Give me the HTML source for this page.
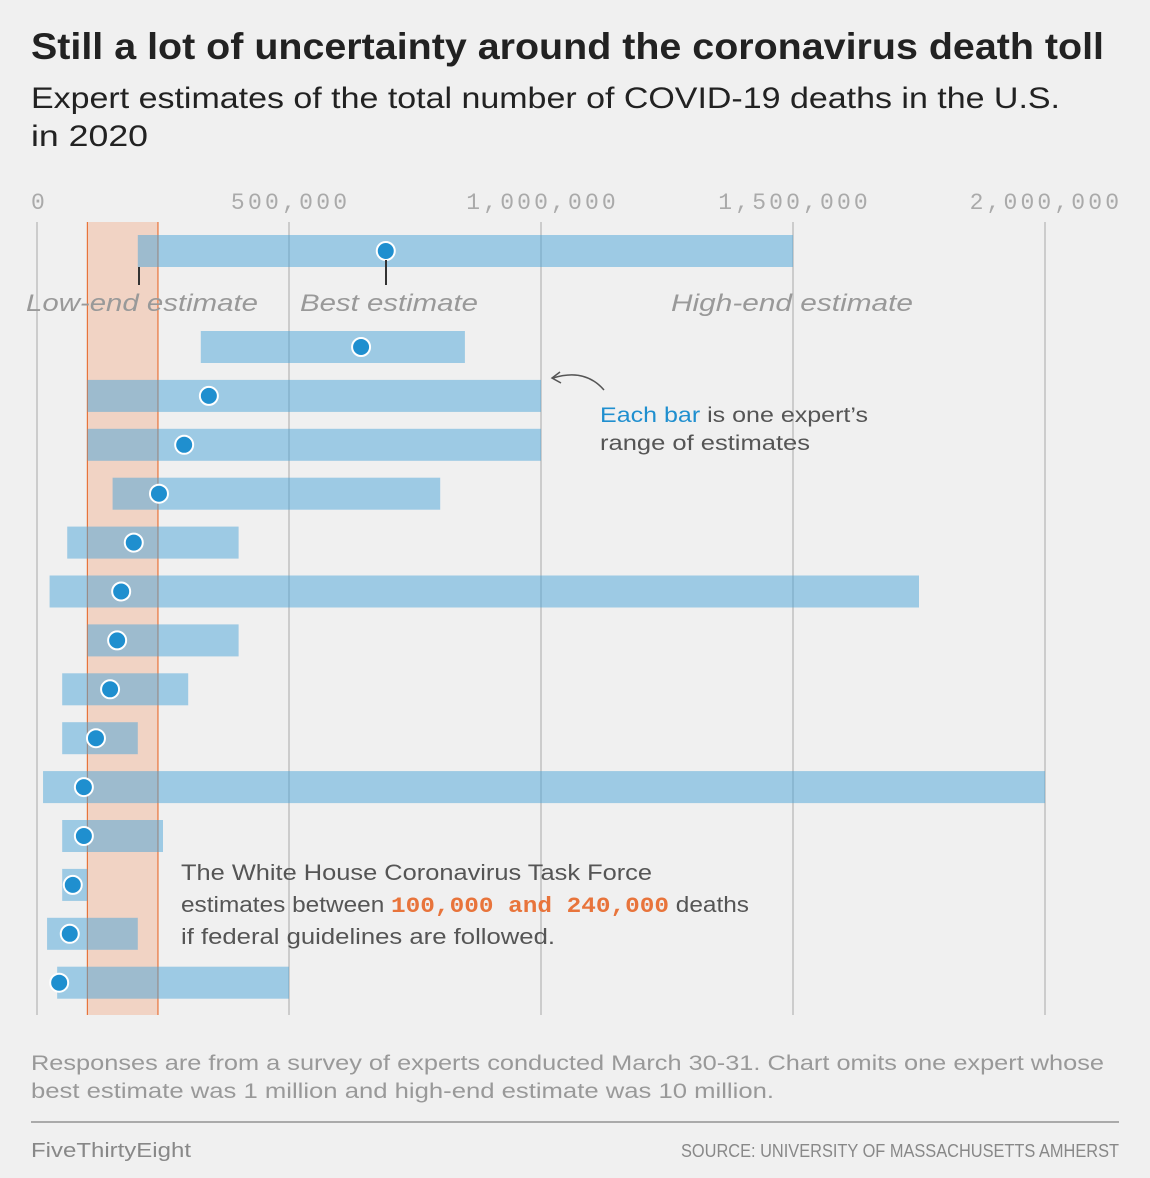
<!DOCTYPE html>
<html><head><meta charset="utf-8"><style>
body{margin:0;background:#f0f0f0;}
svg{display:block;font-family:"Liberation Sans",sans-serif;}
</style></head><body>
<svg width="1150" height="1178" viewBox="0 0 1150 1178">
<rect width="1150" height="1178" fill="#f0f0f0"/>
<text x="31" y="59" font-size="37" font-weight="bold" fill="#222" textLength="1073" lengthAdjust="spacingAndGlyphs">Still a lot of uncertainty around the coronavirus death toll</text>
<text x="31" y="108" font-size="30" fill="#222" textLength="1029" lengthAdjust="spacingAndGlyphs">Expert estimates of the total number of COVID-19 deaths in the U.S.</text>
<text x="31" y="146" font-size="30" fill="#222" textLength="117" lengthAdjust="spacingAndGlyphs">in 2020</text>
<g id="grid"></g>
<g id="band"></g>
<g id="bars"></g>
<g id="annot">
<line x1="139" y1="267" x2="139" y2="285" stroke="#333" stroke-width="2"/>
<line x1="386" y1="260" x2="386" y2="285" stroke="#333" stroke-width="2"/>
<text x="26" y="311" font-size="24" font-style="italic" fill="#999" textLength="232" lengthAdjust="spacingAndGlyphs">Low-end estimate</text>
<text x="300" y="311" font-size="24" font-style="italic" fill="#999" textLength="178" lengthAdjust="spacingAndGlyphs">Best estimate</text>
<text x="671" y="311" font-size="24" font-style="italic" fill="#999" textLength="242" lengthAdjust="spacingAndGlyphs">High-end estimate</text>
<path d="M604 390 Q585 368 553 378" fill="none" stroke="#555" stroke-width="1.5"/>
<path d="M560 372 L552 378 L561 383" fill="none" stroke="#555" stroke-width="1.5"/>
<text x="600" y="422" font-size="21" fill="#555" textLength="268" lengthAdjust="spacingAndGlyphs"><tspan fill="#1f8fcf">Each bar</tspan> is one expert’s</text>
<text x="600" y="450" font-size="21" fill="#555" textLength="210" lengthAdjust="spacingAndGlyphs">range of estimates</text>
<text x="181" y="880" font-size="22" fill="#555" textLength="471" lengthAdjust="spacingAndGlyphs">The White House Coronavirus Task Force</text>
<text x="181" y="912" font-size="22" fill="#555" textLength="568" lengthAdjust="spacingAndGlyphs">estimates between <tspan font-family="Liberation Mono,monospace" font-weight="bold" fill="#e8743b">100,000 and 240,000</tspan> deaths</text>
<text x="181" y="944" font-size="22" fill="#555" textLength="374" lengthAdjust="spacingAndGlyphs">if federal guidelines are followed.</text>
</g>
<text x="31" y="1070" font-size="21" fill="#999" textLength="1073" lengthAdjust="spacingAndGlyphs">Responses are from a survey of experts conducted March 30-31. Chart omits one expert whose</text>
<text x="31" y="1098" font-size="21" fill="#999" textLength="743" lengthAdjust="spacingAndGlyphs">best estimate was 1 million and high-end estimate was 10 million.</text>
<line x1="31" y1="1122" x2="1119" y2="1122" stroke="#aaa" stroke-width="2"/>
<text x="31" y="1157" font-size="20" fill="#888" textLength="160" lengthAdjust="spacingAndGlyphs">FiveThirtyEight</text>
<text x="681" y="1157" font-size="18" fill="#888" textLength="438" lengthAdjust="spacingAndGlyphs">SOURCE: UNIVERSITY OF MASSACHUSETTS AMHERST</text>
</svg>
<script>
const lows=[200000,325000,100000,100000,150000,60000,25000,100000,50000,50000,12000,50000,50000,20000,40000];
const bests=[692000,643000,341000,292000,242000,192000,167000,159000,145000,117000,93000,93000,71000,65000,44000];
const highs=[1500000,849000,1000000,1000000,800000,400000,1750000,400000,300000,200000,2000000,250000,100000,200000,500000];
const ticks=[0,500000,1000000,1500000,2000000];
const tickLabels=["0","500,000","1,000,000","1,500,000","2,000,000"];
const bandLow=100000, bandHigh=240000;
const NS="http://www.w3.org/2000/svg";
const x=v=>37+v*252/500000;
const y=i=>i===0?251:347+(i-1)*48.9;
function mk(t,a,p){const e=document.createElementNS(NS,t);for(const k in a)e.setAttribute(k,a[k]);p.appendChild(e);return e;}
const g=document.getElementById('grid'),b=document.getElementById('band'),bars=document.getElementById('bars');
ticks.forEach((t,i)=>{
 const l=mk('line',{x1:x(t),x2:x(t),y1:222,y2:1015,stroke:'#ccc','stroke-width':2},g);
 
 
 const label=tickLabels[i];
 const w=label.length*16.6;
 let cx=x(t)-w/2;
 if(i===0)cx=31;
 if(i===ticks.length-1)cx=1119-w;
 const tx=mk('text',{x:cx,y:209,'font-size':23,fill:'#aaa','font-family':'Liberation Mono,monospace',textLength:w,lengthAdjust:'spacing'},g);
 tx.textContent=label;
 
 
});
const br=mk('rect',{x:x(bandLow),y:222,width:x(bandHigh)-x(bandLow),height:793,fill:'#f1d3c4'},b);


[bandLow,bandHigh].forEach(v=>{const l=mk('line',{x1:x(v),x2:x(v),y1:222,y2:1015,stroke:'#e8743b','stroke-width':1.2},b);
 
 });
lows.forEach((lo,i)=>{
 const r=mk('rect',{x:x(lo),y:y(i)-16,width:x(highs[i])-x(lo),height:32,fill:'#4aa3d8','fill-opacity':0.5},bars);
 
 
 const c=mk('circle',{cx:x(bests[i]),cy:y(i),r:9,fill:'#1f8fcf',stroke:'#fff','stroke-width':2},bars);
 
 
});
</script>
</body></html>
